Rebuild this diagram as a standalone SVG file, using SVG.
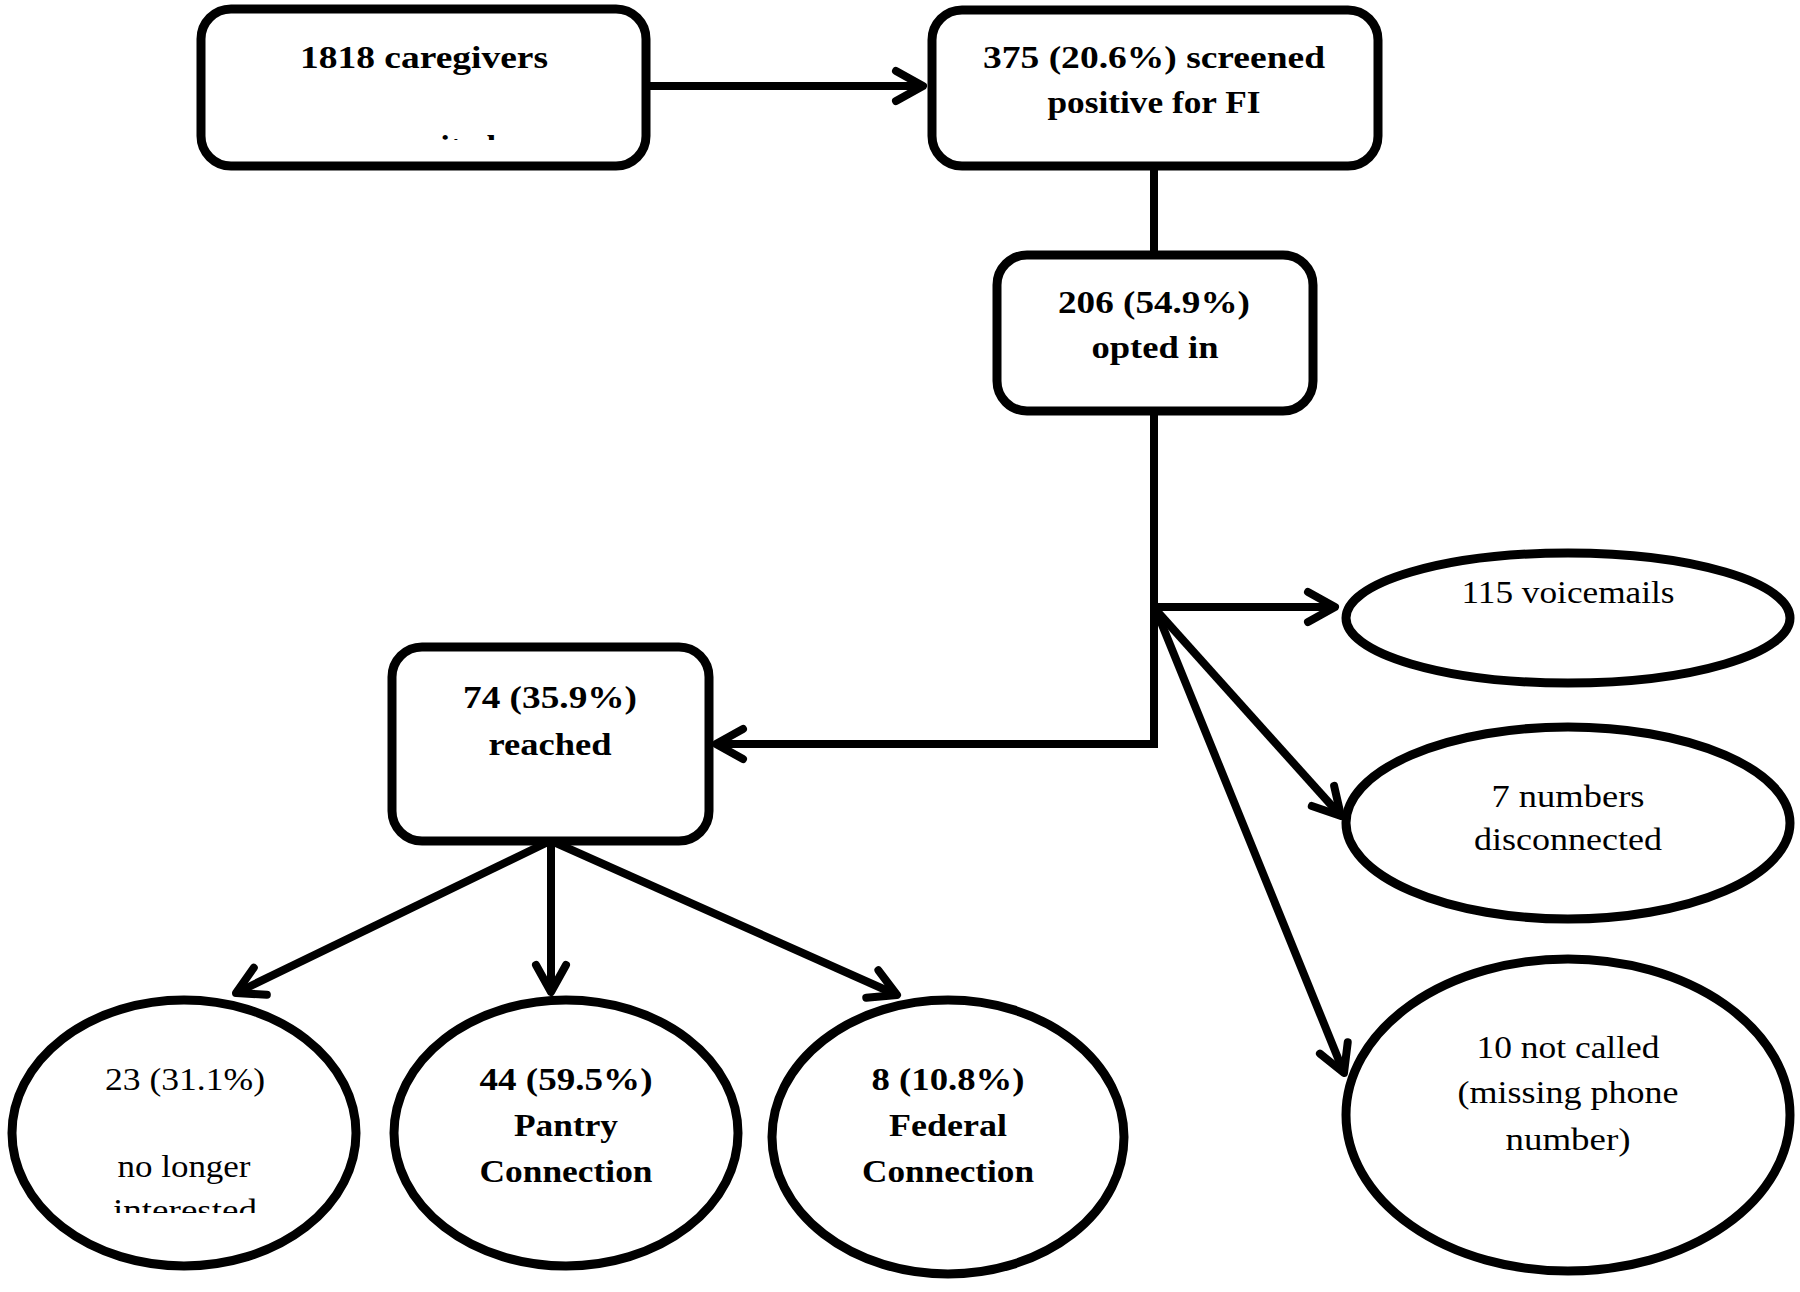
<svg xmlns="http://www.w3.org/2000/svg" width="1800" height="1292" viewBox="0 0 1800 1292">
<style>
.box{fill:#fff;stroke:#000;stroke-width:9}
.ell{fill:#fff;stroke:#000;stroke-width:9}
.con{fill:none;stroke:#000;stroke-width:8;stroke-linejoin:miter}
text{font-family:"Liberation Serif","DejaVu Serif",serif;font-size:32px;fill:#000;text-anchor:middle}
.b{font-weight:bold}
</style>
<defs>
<marker id="arr" markerUnits="userSpaceOnUse" markerWidth="60" markerHeight="60" viewBox="-40 -30 60 60" refX="0" refY="0" orient="auto" overflow="visible">
<path d="M-27,-15 L0,0 L-27,15" fill="none" stroke="#000" stroke-width="8" stroke-linecap="round" stroke-linejoin="round"/>
</marker>
<clipPath id="clipTop"><rect x="200" y="120" width="440" height="20"/></clipPath>
<clipPath id="clipA"><rect x="20" y="1185" width="330" height="28"/></clipPath>
</defs>
<rect width="1800" height="1292" fill="#fff"/>
<g id="connectors">
<line class="con" x1="646" y1="86" x2="923" y2="86" marker-end="url(#arr)"/>
<line class="con" x1="1154" y1="166" x2="1154" y2="255"/>
<polyline class="con" points="1154,411 1154,744 716,744" marker-end="url(#arr)"/>
<line class="con" x1="1154" y1="607" x2="1335" y2="607" marker-end="url(#arr)"/>
<line class="con" x1="1156" y1="610" x2="1341" y2="816" marker-end="url(#arr)"/>
<line class="con" x1="1156" y1="610" x2="1344" y2="1073" marker-end="url(#arr)"/>
<line class="con" x1="546" y1="843" x2="236" y2="993" marker-end="url(#arr)"/>
<line class="con" x1="551" y1="843" x2="551" y2="992" marker-end="url(#arr)"/>
<line class="con" x1="556" y1="843" x2="897" y2="995" marker-end="url(#arr)"/>
</g>
<g id="n-caregivers">
<rect class="box" x="201" y="9" width="445" height="157" rx="30"/>
<text class="b" x="424" y="68" textLength="248" lengthAdjust="spacingAndGlyphs">1818 caregivers</text>
<text class="b" x="428" y="157" textLength="136" lengthAdjust="spacingAndGlyphs" clip-path="url(#clipTop)">recruited</text>
</g>
<g id="n-screened">
<rect class="box" x="932" y="10" width="446" height="156" rx="30"/>
<text class="b" x="1154" y="68" textLength="342" lengthAdjust="spacingAndGlyphs">375 (20.6%) screened</text>
<text class="b" x="1154" y="113" textLength="213" lengthAdjust="spacingAndGlyphs">positive for FI</text>
</g>
<g id="n-optedin">
<rect class="box" x="997" y="255" width="316" height="156" rx="30"/>
<text class="b" x="1154" y="313" textLength="192" lengthAdjust="spacingAndGlyphs">206 (54.9%)</text>
<text class="b" x="1155" y="358" textLength="127" lengthAdjust="spacingAndGlyphs">opted in</text>
</g>
<g id="n-reached">
<rect class="box" x="392" y="647" width="317" height="194" rx="30"/>
<text class="b" x="550" y="708" textLength="174" lengthAdjust="spacingAndGlyphs">74 (35.9%)</text>
<text class="b" x="550" y="755" textLength="123" lengthAdjust="spacingAndGlyphs">reached</text>
</g>
<g id="n-voicemails">
<ellipse class="ell" cx="1568" cy="618" rx="222" ry="65"/>
<text x="1568" y="603" textLength="213" lengthAdjust="spacingAndGlyphs">115 voicemails</text>
</g>
<g id="n-disconnected">
<ellipse class="ell" cx="1568" cy="823" rx="222" ry="96"/>
<text x="1568" y="807" textLength="153" lengthAdjust="spacingAndGlyphs">7 numbers</text>
<text x="1568" y="850" textLength="188" lengthAdjust="spacingAndGlyphs">disconnected</text>
</g>
<g id="n-notcalled">
<ellipse class="ell" cx="1568" cy="1115" rx="222" ry="156"/>
<text x="1568" y="1058" textLength="183" lengthAdjust="spacingAndGlyphs">10 not called</text>
<text x="1568" y="1103" textLength="221" lengthAdjust="spacingAndGlyphs">(missing phone</text>
<text x="1568" y="1150" textLength="125" lengthAdjust="spacingAndGlyphs">number)</text>
</g>
<g id="n-nolonger">
<ellipse class="ell" cx="184" cy="1133" rx="172" ry="133"/>
<text x="185" y="1090" textLength="160" lengthAdjust="spacingAndGlyphs">23 (31.1%)</text>
<text x="184" y="1177" textLength="133" lengthAdjust="spacingAndGlyphs">no longer</text>
<text x="185" y="1221" textLength="144" lengthAdjust="spacingAndGlyphs" clip-path="url(#clipA)">interested</text>
</g>
<g id="n-pantry">
<ellipse class="ell" cx="566" cy="1133" rx="172" ry="133"/>
<text class="b" x="566" y="1090" textLength="173" lengthAdjust="spacingAndGlyphs">44 (59.5%)</text>
<text class="b" x="566" y="1136" textLength="104" lengthAdjust="spacingAndGlyphs">Pantry</text>
<text class="b" x="566" y="1182" textLength="173" lengthAdjust="spacingAndGlyphs">Connection</text>
</g>
<g id="n-federal">
<ellipse class="ell" cx="948" cy="1137" rx="176" ry="137"/>
<text class="b" x="948" y="1090" textLength="153" lengthAdjust="spacingAndGlyphs">8 (10.8%)</text>
<text class="b" x="948" y="1136" textLength="118" lengthAdjust="spacingAndGlyphs">Federal</text>
<text class="b" x="948" y="1182" textLength="172" lengthAdjust="spacingAndGlyphs">Connection</text>
</g>
</svg>
